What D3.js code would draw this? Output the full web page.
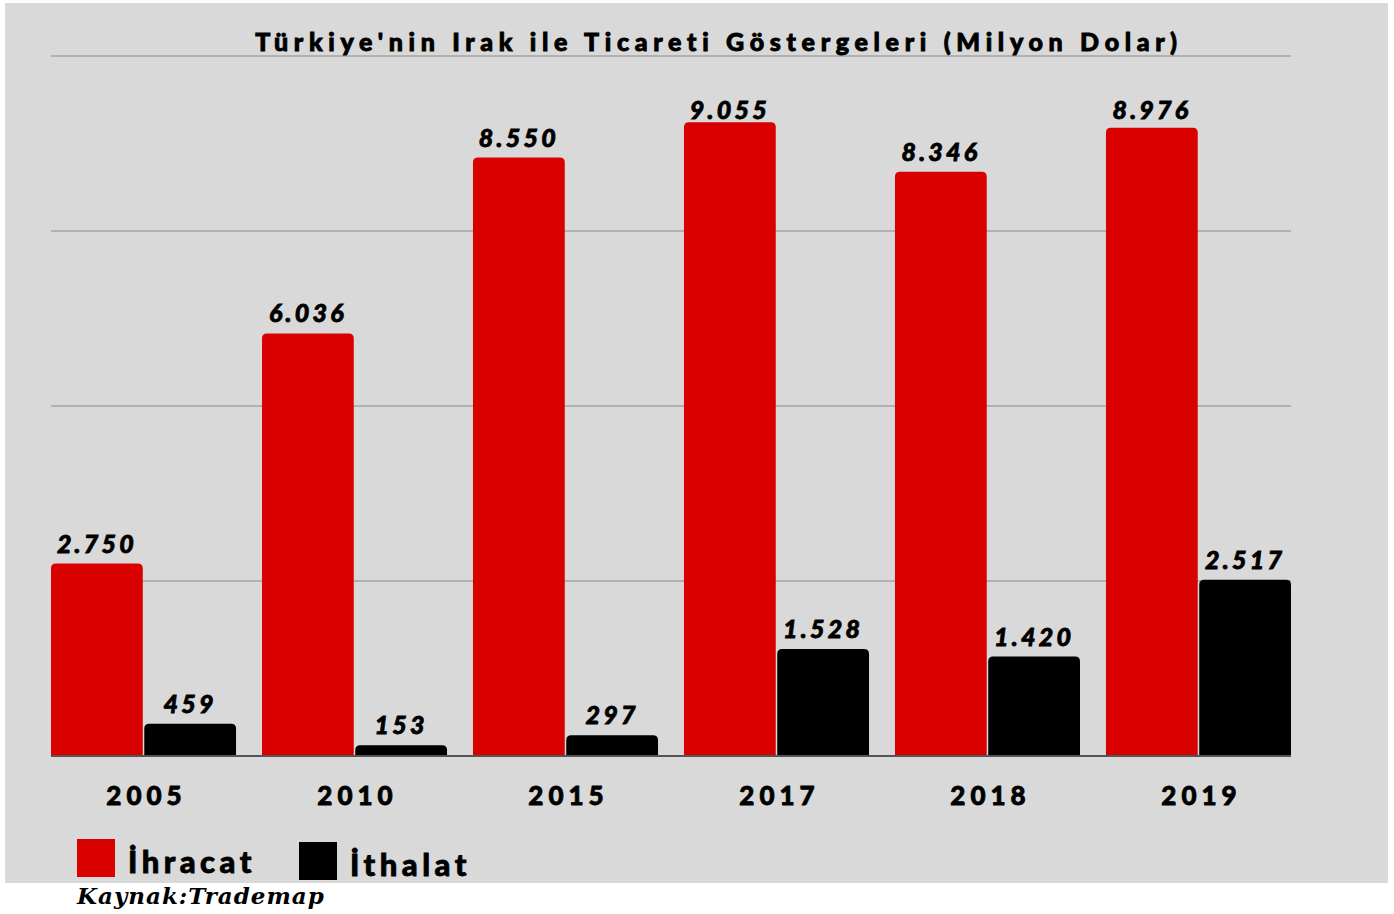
<!DOCTYPE html>
<html>
<head>
<meta charset="utf-8">
<script src="https://cdn.jsdelivr.net/npm/d3@7"></script>
<style>
  body { margin: 0; background: #fff; }
  svg text { font-family: Lato, "DejaVu Sans", sans-serif; }
</style>
</head>
<body>
<script>
// chart data
var years = ["2005", "2010", "2015", "2017", "2018", "2019"];
var ihracat = [2750, 6036, 8550, 9055, 8346, 8976];
var ithalat = [459, 153, 297, 1528, 1420, 2517];
var seriesNames = ["İhracat", "İthalat"];
var gridTicks = [0, 2500, 5000, 7500, 10000];

var width = 1394, height = 914;
var colors = ["#d90000", "#000000"];

var svg = d3.select("body").append("svg")
    .attr("width", width)
    .attr("height", height);

// gray panel
svg.append("rect")
    .attr("x", 5).attr("y", 3)
    .attr("width", 1383).attr("height", 880)
    .attr("fill", "#d9d9d9");

var x = d3.scaleBand()
    .domain(years)
    .range([51, 1291])
    .paddingInner(0.123)
    .paddingOuter(0);

var xSub = d3.scaleBand()
    .domain(seriesNames)
    .range([0, x.bandwidth()])
    .paddingInner(0.016);

var y = d3.scaleLinear()
    .domain([0, 10000])
    .range([756, 56]);

// gridlines
svg.selectAll(".grid")
    .data(gridTicks.slice(1))
    .enter().append("line")
    .attr("class", "grid")
    .attr("x1", 51).attr("x2", 1291)
    .attr("y1", function(d){ return Math.round(y(d)); })
    .attr("y2", function(d){ return Math.round(y(d)); })
    .attr("stroke", "#a3a3a3")
    .attr("stroke-width", 1.5);

// title
svg.append("text")
    .attr("x", 719).attr("y", 51)
    .attr("text-anchor", "middle")
    .attr("font-size", 25)
    .attr("font-weight", 900)
    .attr("letter-spacing", 5.7)
    .attr("stroke", "#000").attr("stroke-width", 0.9)
    .text("Türkiye'nin Irak ile Ticareti Göstergeleri (Milyon Dolar)");

// rounded-top bar path
function topRounded(x0, y0, w, h, r) {
    r = Math.min(r, h, w / 2);
    return "M" + x0 + "," + (y0 + h) +
        "V" + (y0 + r) +
        "Q" + x0 + "," + y0 + " " + (x0 + r) + "," + y0 +
        "H" + (x0 + w - r) +
        "Q" + (x0 + w) + "," + y0 + " " + (x0 + w) + "," + (y0 + r) +
        "V" + (y0 + h) + "Z";
}

var rows = years.map(function(yr, i){
    return { year: yr, vals: [ihracat[i], ithalat[i]] };
});

var groups = svg.selectAll(".grp")
    .data(rows)
    .enter().append("g")
    .attr("class", "grp")
    .attr("transform", function(d){ return "translate(" + x(d.year) + ",0)"; });

groups.selectAll("path")
    .data(function(d){ return d.vals.map(function(v, j){ return { v: v, s: seriesNames[j], j: j }; }); })
    .enter().append("path")
    .attr("d", function(d){
        return topRounded(xSub(d.s), y(d.v), xSub.bandwidth(), y(0) - y(d.v), 5);
    })
    .attr("fill", function(d){ return colors[d.j]; });

var fmt = function(v){ return d3.format(",")(v).replace(",", "."); };

// value labels (kept below the top gridline)
groups.selectAll(".val")
    .data(function(d){ return d.vals.map(function(v, j){ return { v: v, s: seriesNames[j] }; }); })
    .enter().append("text")
    .attr("class", "val")
    .attr("x", function(d){ return xSub(d.s) + xSub.bandwidth() / 2; })
    .attr("y", function(d){ return Math.max(y(d.v) - 11, 119); })
    .attr("text-anchor", "middle")
    .attr("font-size", 25)
    .attr("font-weight", 900)
    .attr("font-style", "italic")
    .attr("letter-spacing", 3.2)
    .attr("stroke", "#000").attr("stroke-width", 0.8)
    .text(function(d){ return fmt(d.v); });

// baseline
svg.append("line")
    .attr("x1", 51).attr("x2", 1291)
    .attr("y1", y(0)).attr("y2", y(0))
    .attr("stroke", "#555")
    .attr("stroke-width", 2);

// year labels
svg.selectAll(".yr")
    .data(years)
    .enter().append("text")
    .attr("class", "yr")
    .attr("x", function(d){ return x(d) + x.bandwidth() / 2 + 3; })
    .attr("y", 805)
    .attr("text-anchor", "middle")
    .attr("font-size", 26)
    .attr("font-weight", 900)
    .attr("letter-spacing", 5)
    .attr("stroke", "#000").attr("stroke-width", 0.8)
    .text(function(d){ return d; });

// legend
var legendX = [77, 299];
var legend = svg.selectAll(".leg")
    .data(seriesNames)
    .enter().append("g")
    .attr("class", "leg")
    .attr("transform", function(d, i){ return "translate(" + legendX[i] + "," + (839 + i * 3) + ")"; });

legend.append("rect")
    .attr("width", 38).attr("height", 38)
    .attr("fill", function(d, i){ return colors[i]; });

legend.append("text")
    .attr("x", 51).attr("y", 34)
    .attr("font-size", 31)
    .attr("font-weight", 900)
    .attr("letter-spacing", 4.5)
    .attr("stroke", "#000").attr("stroke-width", 0.8)
    .text(function(d){ return d; });

// source
svg.append("text")
    .attr("x", 77).attr("y", 904)
    .attr("font-size", 23)
    .attr("font-weight", "bold")
    .attr("font-style", "italic")
    .attr("letter-spacing", 1)
    .style("font-family", "'DejaVu Serif', serif")
    .text("Kaynak:Trademap");
</script>
</body>
</html>
